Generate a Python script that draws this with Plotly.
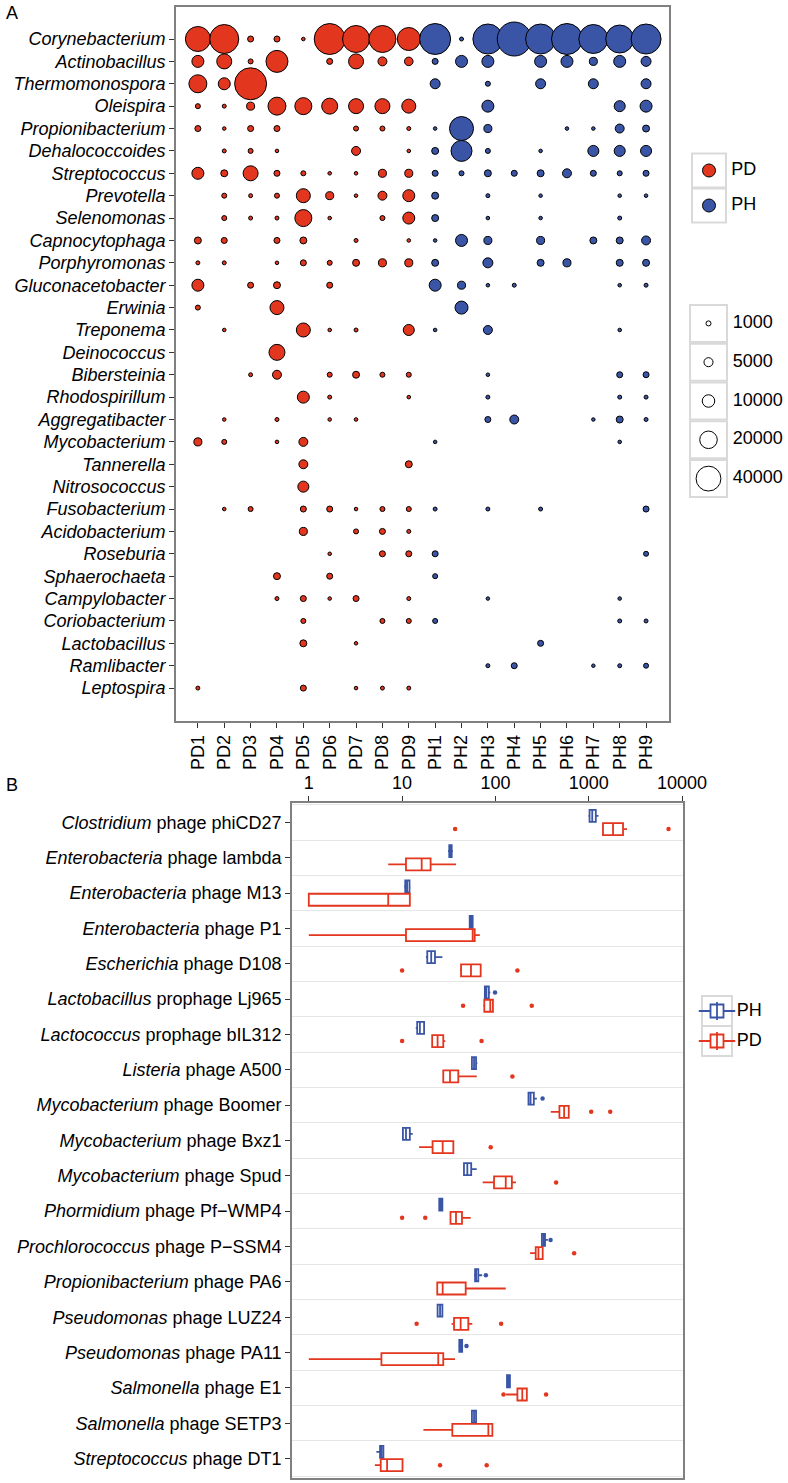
import numpy as np
import plotly.graph_objects as go

W, H = 788, 1483
RED = "#E3361F"
BLUE = "#3A55A6"
KEY_GREY = "#d9d9d9"
FONT = "Liberation Sans, Arial, Helvetica, sans-serif"

# ---------------- panel A data ----------------
genera = ["Corynebacterium", "Actinobacillus", "Thermomonospora", "Oleispira",
          "Propionibacterium", "Dehalococcoides", "Streptococcus", "Prevotella",
          "Selenomonas", "Capnocytophaga", "Porphyromonas", "Gluconacetobacter",
          "Erwinia", "Treponema", "Deinococcus", "Bibersteinia", "Rhodospirillum",
          "Aggregatibacter", "Mycobacterium", "Tannerella", "Nitrosococcus",
          "Fusobacterium", "Acidobacterium", "Roseburia", "Sphaerochaeta",
          "Campylobacter", "Coriobacterium", "Lactobacillus", "Ramlibacter",
          "Leptospira"]
pd_samples = ["PD1", "PD2", "PD3", "PD4", "PD5", "PD6", "PD7", "PD8", "PD9"]
ph_samples = ["PH1", "PH2", "PH3", "PH4", "PH5", "PH6", "PH7", "PH8", "PH9"]

# abundance, rows follow genera, columns follow samples (0 = not detected)
pd_abundance = [
    [40500, 54300, 1800, 1800, 60, 62000, 47200, 47200, 34300],
    [9200, 14600, 1000, 31400, 0, 1800, 14600, 4900, 4400],
    [21000, 9200, 66000, 0, 0, 0, 0, 0, 0],
    [1000, 300, 3800, 21000, 18800, 16600, 14600, 14600, 12700],
    [1800, 60, 1800, 1800, 0, 0, 1000, 1000, 300],
    [0, 300, 1000, 60, 0, 0, 4900, 0, 60],
    [9200, 2700, 14600, 1800, 1000, 60, 60, 3800, 3800],
    [0, 1000, 300, 1000, 12700, 3800, 60, 4900, 9200],
    [0, 1000, 300, 300, 18800, 60, 0, 1000, 9200],
    [2700, 1800, 0, 1800, 2700, 0, 300, 0, 60],
    [300, 300, 0, 60, 1800, 1000, 2700, 3800, 3800],
    [9200, 0, 1800, 2700, 0, 1800, 0, 0, 0],
    [1000, 0, 0, 12700, 0, 0, 0, 0, 0],
    [0, 60, 0, 0, 12700, 60, 300, 0, 7700],
    [0, 0, 0, 16600, 0, 0, 0, 0, 0],
    [0, 0, 300, 4900, 0, 1000, 2700, 1000, 1000],
    [0, 0, 0, 0, 9200, 300, 0, 0, 60],
    [0, 60, 0, 300, 0, 60, 60, 0, 0],
    [3800, 1000, 0, 60, 4900, 0, 0, 0, 0],
    [0, 0, 0, 0, 4900, 0, 0, 0, 2700],
    [0, 0, 0, 0, 7700, 0, 0, 0, 0],
    [0, 60, 1000, 0, 1800, 1800, 60, 1000, 1000],
    [0, 0, 0, 0, 3800, 0, 1000, 1800, 300],
    [0, 0, 0, 0, 0, 60, 0, 1800, 1800],
    [0, 0, 0, 2700, 0, 1800, 0, 0, 0],
    [0, 0, 0, 300, 1800, 60, 1800, 0, 300],
    [0, 0, 0, 0, 1000, 0, 0, 1000, 1000],
    [0, 0, 0, 0, 2700, 0, 30, 0, 0],
    [0, 0, 0, 0, 0, 0, 0, 0, 0],
    [300, 0, 0, 0, 1800, 0, 60, 300, 300],
]
ph_abundance = [
    [62000, 300, 58100, 74400, 58100, 62000, 54300, 50700, 58100],
    [1800, 9200, 9200, 0, 9200, 9200, 3800, 9200, 6200],
    [6200, 0, 1000, 0, 6200, 0, 6200, 0, 6200],
    [0, 0, 9200, 0, 0, 0, 0, 7700, 9200],
    [60, 37300, 3800, 0, 0, 60, 60, 4900, 2700],
    [2700, 28600, 1000, 0, 60, 0, 7700, 7700, 7700],
    [1800, 1000, 2700, 1800, 2700, 4900, 1800, 1000, 1800],
    [2700, 0, 300, 0, 60, 0, 0, 60, 60],
    [2700, 0, 60, 0, 60, 0, 0, 300, 0],
    [60, 9200, 3800, 0, 3800, 0, 2700, 2700, 4900],
    [2700, 0, 6200, 0, 2700, 3800, 0, 2700, 2700],
    [9200, 3800, 60, 300, 0, 0, 0, 60, 300],
    [0, 10900, 0, 0, 0, 0, 0, 0, 0],
    [60, 0, 4900, 0, 0, 0, 0, 60, 0],
    [0, 0, 0, 0, 0, 0, 0, 0, 0],
    [0, 0, 60, 0, 0, 0, 0, 1800, 1800],
    [0, 0, 300, 0, 0, 0, 0, 300, 300],
    [0, 0, 1800, 4900, 0, 0, 30, 2700, 300],
    [30, 0, 0, 0, 0, 0, 0, 60, 0],
    [0, 0, 0, 0, 0, 0, 0, 0, 0],
    [0, 0, 0, 0, 0, 0, 0, 0, 0],
    [300, 0, 300, 0, 300, 0, 0, 0, 1800],
    [0, 0, 0, 0, 0, 0, 0, 0, 0],
    [1800, 0, 0, 0, 0, 0, 0, 0, 1000],
    [1000, 0, 0, 0, 0, 0, 0, 0, 0],
    [0, 0, 30, 0, 0, 0, 0, 60, 0],
    [1000, 0, 0, 0, 0, 0, 0, 300, 300],
    [0, 0, 0, 0, 1800, 0, 0, 0, 0],
    [0, 0, 300, 1800, 0, 0, 30, 300, 1000],
    [0, 0, 0, 0, 0, 0, 0, 0, 0],
]
groups = ["PD", "PH"]
size_breaks = [1000, 5000, 10000, 20000, 40000]

# ---------------- panel B data ----------------
phage_hosts = ["Clostridium", "Enterobacteria", "Enterobacteria", "Enterobacteria",
               "Escherichia", "Lactobacillus", "Lactococcus", "Listeria",
               "Mycobacterium", "Mycobacterium", "Mycobacterium", "Phormidium",
               "Prochlorococcus", "Propionibacterium", "Pseudomonas", "Pseudomonas",
               "Salmonella", "Salmonella", "Streptococcus"]
phage_names = ["phage phiCD27", "phage lambda", "phage M13", "phage P1", "phage D108",
               "prophage Lj965", "prophage bIL312", "phage A500", "phage Boomer",
               "phage Bxz1", "phage Spud", "phage Pf\u2212WMP4", "phage P\u2212SSM4",
               "phage PA6", "phage LUZ24", "phage PA11", "phage E1", "phage SETP3",
               "phage DT1"]

ph_lower = [990, 31, 10.5, 52, 18, 76, 14, 55, 222, 10, 45, 24.5, 310, 59, 23.5, 40, 131, 55, 5.3]
ph_q1 = [1020, 32, 10.8, 53, 18.6, 77, 14.5, 56, 226, 10.2, 46, 25, 315, 60.5, 24, 41, 133, 56, 5.8]
ph_median = [1090, 33, 11.3, 55, 20.5, 80, 15.5, 59, 238, 11, 50, 26, 330, 62, 25.5, 42.5, 138, 59, 6.0]
ph_q3 = [1190, 34, 12.0, 57, 22.5, 85, 17.2, 62, 258, 12.1, 55, 27, 340, 65.5, 27, 44, 143, 62, 6.3]
ph_upper = [1270, 35, 12.3, 58, 27, 88, 17.5, 64, 278, 13, 63, 27.5, 365, 72, 27.5, 44.5, 145, 63, 6.4]
ph_outliers = [[], [], [], [], [], [99], [], [], [320], [], [], [], [390], [79], [], [49], [], [], []]

pd_lower = [1400, 7.1, 1.0, 1.0, 41.7, 74, 21, 27.6, 392, 15.2, 73, 33, 235, 23.5, 33.9, 1.0, 130, 16.9, 5.1]
pd_q1 = [1420, 11, 1.0, 11, 42.8, 76, 21, 27.6, 485, 21.2, 96.6, 33, 270, 23.8, 36, 6.0, 172, 34.5, 5.9]
pd_median = [1820, 16.2, 7.1, 57, 54.7, 88, 24, 32.6, 545, 27.2, 129, 37.8, 289, 27.2, 42.4, 24.4, 194, 84, 6.9]
pd_q3 = [2330, 20.2, 12.1, 60, 69.5, 94, 27.6, 40, 611, 35.4, 150, 43.8, 321, 48, 51.2, 27.6, 217, 92.7, 10.1]
pd_upper = [2570, 37.8, 12.1, 68, 69.5, 95, 29, 63, 611, 35.4, 166, 54.3, 321, 129, 56.5, 36.9, 217, 92.7, 10.1]
pd_outliers = [[37, 7160], [], [], [], [10.0, 172], [45, 245], [10, 71], [152], [1062, 1698],
               [89], [447], [10, 17.7], [697], [], [14.3, 115], [], [122, 349], [], [25.5, 80.6]]
box_groups = ["PH", "PD"]


def bubble_size(v):
    # area grows linearly with abundance (like ggplot's scale_size)
    return np.sqrt(20 + 0.0162 * np.asarray(v, dtype=float)) - 1


def px_x(a, b):
    return [a / W, b / W]


def px_y(top, bottom):
    return [1 - bottom / H, 1 - top / H]


def key_boxes(labels, size, xa, ya):
    # grey framed legend keys with their labels on the right
    return go.Scatter(x=[0] * len(labels), y=list(range(len(labels))), mode="markers+text",
                      text=labels, textposition="middle right", cliponaxis=False,
                      textfont=dict(size=18, color="black"),
                      marker=dict(symbol="square", size=size, color="white", opacity=1,
                                  line=dict(color=KEY_GREY, width=2)),
                      showlegend=False, hoverinfo="skip", xaxis=xa, yaxis=ya)


fig = go.Figure()

# ---- panel A bubbles ----
for samples, matrix, color, name in [(pd_samples, pd_abundance, RED, "PD"),
                                     (ph_samples, ph_abundance, BLUE, "PH")]:
    xs, ys, vs = [], [], []
    for j, s in enumerate(samples):
        for i, g in enumerate(genera):
            if matrix[i][j] > 0:
                xs.append(s)
                ys.append(g)
                vs.append(matrix[i][j])
    fig.add_trace(go.Scatter(x=xs, y=ys, mode="markers", name=name, showlegend=False,
                             marker=dict(size=bubble_size(vs), color=color, opacity=1,
                                         line=dict(color="black", width=1)),
                             cliponaxis=False, xaxis="x", yaxis="y"))

# ---- panel A colour legend ----
fig.add_trace(key_boxes(groups, 34, "x3", "y3"))
fig.add_trace(go.Scatter(x=[0] * len(groups), y=list(range(len(groups))), mode="markers",
                         cliponaxis=False,
                         marker=dict(size=13, color=[RED, BLUE], opacity=1,
                                     line=dict(color="black", width=1)),
                         showlegend=False, hoverinfo="skip", xaxis="x3", yaxis="y3"))

# ---- panel A size legend ----
fig.add_trace(key_boxes([str(b) for b in size_breaks], 37, "x4", "y4"))
fig.add_trace(go.Scatter(x=[0] * len(size_breaks), y=list(range(len(size_breaks))), mode="markers",
                         cliponaxis=False,
                         marker=dict(size=bubble_size(size_breaks), color="white", opacity=1,
                                     line=dict(color="black", width=1)),
                         showlegend=False, hoverinfo="skip", xaxis="x4", yaxis="y4"))

# ---- panel B boxes ----
DODGE = 0.1875
BOX_W = 0.34
n = len(phage_names)
for name, color, off, lo, q1, med, q3, up, outl in [
        ("PH", BLUE, -DODGE, ph_lower, ph_q1, ph_median, ph_q3, ph_upper, ph_outliers),
        ("PD", RED, DODGE, pd_lower, pd_q1, pd_median, pd_q3, pd_upper, pd_outliers)]:
    pos = [i + off for i in range(n)]
    fig.add_trace(go.Box(name=name, y=pos, lowerfence=lo, q1=q1, median=med, q3=q3,
                         upperfence=up, orientation="h", width=BOX_W, boxpoints=False,
                         whiskerwidth=0, fillcolor="white", showlegend=False,
                         line=dict(color=color, width=1.8), xaxis="x2", yaxis="y2"))
    ox, oy = [], []
    for i, pts in enumerate(outl):
        for p in pts:
            ox.append(p)
            oy.append(pos[i])
    fig.add_trace(go.Scatter(x=ox, y=oy, mode="markers", showlegend=False,
                             marker=dict(size=4.5, color=color), xaxis="x2", yaxis="y2"))

# ---- panel B legend (box glyph keys) ----
b_colors = [BLUE, RED]
fig.add_trace(key_boxes(box_groups, 30, "x5", "y5"))
for symbol, size, fill in [("line-ew", 26, None), ("square", 13, "white"), ("line-ns", 13, None)]:
    mk = dict(symbol=symbol, size=size, opacity=1, line=dict(color=b_colors, width=1.8))
    if fill:
        mk["color"] = fill
    fig.add_trace(go.Scatter(x=[0] * len(box_groups), y=list(range(len(box_groups))),
                             mode="markers", marker=mk, cliponaxis=False,
                             showlegend=False, hoverinfo="skip", xaxis="x5", yaxis="y5"))

frame = dict(showline=True, mirror=True, linecolor="#808080", linewidth=1.6,
             showgrid=False, zeroline=False, ticks="outside", ticklen=5, automargin=False,
             tickcolor="#333333", tickwidth=1.2, tickfont=dict(size=18, color="black"))
hidden = dict(visible=False, fixedrange=True, automargin=False)

fig.update_layout(
    width=W, height=H, autosize=False, showlegend=False,
    margin=dict(l=0, r=0, t=0, b=0, autoexpand=False),
    paper_bgcolor="white", plot_bgcolor="white",
    font=dict(family=FONT, size=18, color="black"),
    xaxis=dict(domain=px_x(176, 669), anchor="y", type="category",
               categoryorder="array", categoryarray=pd_samples + ph_samples,
               range=[-0.83, 17.87], tickangle=-90, **frame),
    yaxis=dict(domain=px_y(7, 721), anchor="x", type="category",
               categoryorder="array", categoryarray=genera,
               range=[30.47, -1.43], **{**frame, "tickfont": dict(size=18, color="black", style="italic")}),
    xaxis2=dict(domain=px_x(292, 683), anchor="y2", type="log", side="top",
                range=[-0.18, 4.01], tickvals=[1, 10, 100, 1000, 10000],
                ticktext=["1", "10", "100", "1000", "10000"], **frame),
    yaxis2=dict(domain=px_y(803, 1478), anchor="x2", range=[18.55, -0.55],
                tickvals=list(range(n)),
                ticktext=[f"<i>{h}</i> {p}" for h, p in zip(phage_hosts, phage_names)],
                minor=dict(tickmode="linear", tick0=0.5, dtick=1, showgrid=True,
                           gridcolor="#e6e6e6", gridwidth=1),
                **frame),
    xaxis3=dict(domain=px_x(691, 727), anchor="y3", range=[-0.5, 0.5], **hidden),
    yaxis3=dict(domain=px_y(153, 223), anchor="x3", range=[1.5, -0.5], **hidden),
    xaxis4=dict(domain=px_x(689, 728), anchor="y4", range=[-0.5, 0.5], **hidden),
    yaxis4=dict(domain=px_y(304, 498), anchor="x4", range=[4.5, -0.5], **hidden),
    xaxis5=dict(domain=px_x(701, 733), anchor="y5", range=[-0.5, 0.5], **hidden),
    yaxis5=dict(domain=px_y(996, 1056), anchor="x5", range=[1.5, -0.5], **hidden),
    annotations=[
        dict(text="A", x=4 / W, y=1 - 13 / H, xref="paper", yref="paper",
             xanchor="left", yanchor="middle", showarrow=False, font=dict(size=18)),
        dict(text="B", x=4 / W, y=1 - 785 / H, xref="paper", yref="paper",
             xanchor="left", yanchor="middle", showarrow=False, font=dict(size=18)),
    ],
)

# page sits flush with the window: no body margin, no scrollbars
page_fix = (
    "document.documentElement.style.overflow='hidden';"
    "document.body.style.margin='0';"
    "document.body.style.overflow='hidden';"
)
fig.write_html("out.html", post_script=page_fix, config={"displayModeBar": False})
